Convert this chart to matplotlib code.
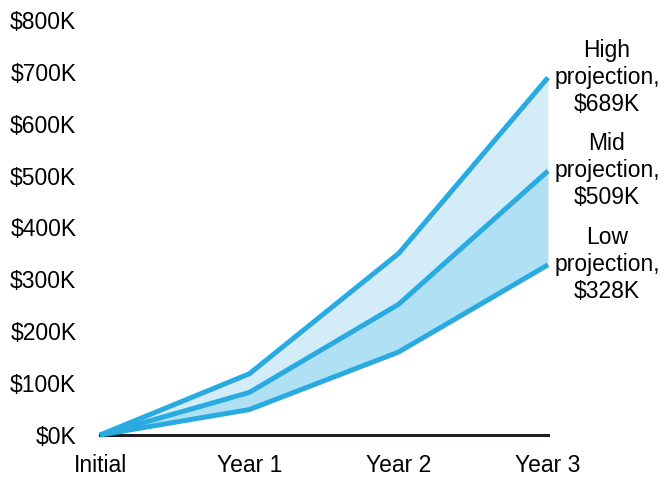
import matplotlib.pyplot as plt

# Projection data ($K)
periods = ["Initial", "Year 1", "Year 2", "Year 3"]
high = [0, 118, 350, 689]
mid = [0, 82, 252, 509]
low = [0, 49, 160, 328]
series_names = ["High", "Mid", "Low"]
y_ticks = [0, 100, 200, 300, 400, 500, 600, 700, 800]

line_color = "#29ABE2"
fill_upper = "#D4ECF8"
fill_lower = "#B0E0F4"

plt.rcParams["font.family"] = ["Liberation Sans", "DejaVu Sans"]
fs = 16.5

fig = plt.figure(figsize=(6.65, 4.79), dpi=100)
ax = fig.add_axes([100 / 665, 44 / 479, 448 / 665, 415 / 479])

x = list(range(len(periods)))

ax.fill_between(x, mid, high, color=fill_upper, linewidth=0, zorder=1)
ax.fill_between(x, low, mid, color=fill_lower, linewidth=0, zorder=1)

# baseline at zero
ax.plot([x[0], x[-1]], [0, 0], color="#231F20", linewidth=2.2, zorder=2,
        clip_on=False)

for vals in (high, mid, low):
    ax.plot(x, vals, color=line_color, linewidth=3.6, zorder=3,
            solid_joinstyle="miter", solid_capstyle="butt", clip_on=False)

# end labels
for name, vals in zip(series_names, (high, mid, low)):
    ax.annotate(f"{name}\nprojection,\n${vals[-1]}K", xy=(x[-1], vals[-1]),
                xytext=(59, 0), textcoords="offset pixels",
                ha="center", va="center", fontsize=fs, linespacing=1.22,
                annotation_clip=False)

ax.set_xlim(0, 3)
ax.set_ylim(0, 800)
ax.set_xticks(x)
ax.set_xticklabels(periods, fontsize=fs)
ax.set_yticks(y_ticks)
ax.set_yticklabels([f"${v}K" for v in y_ticks], fontsize=fs)
ax.tick_params(axis="both", length=0)
ax.tick_params(axis="y", pad=17)
ax.tick_params(axis="x", pad=14)
for spine in ax.spines.values():
    spine.set_visible(False)

fig.savefig("out.png", dpi=100, facecolor="white")
